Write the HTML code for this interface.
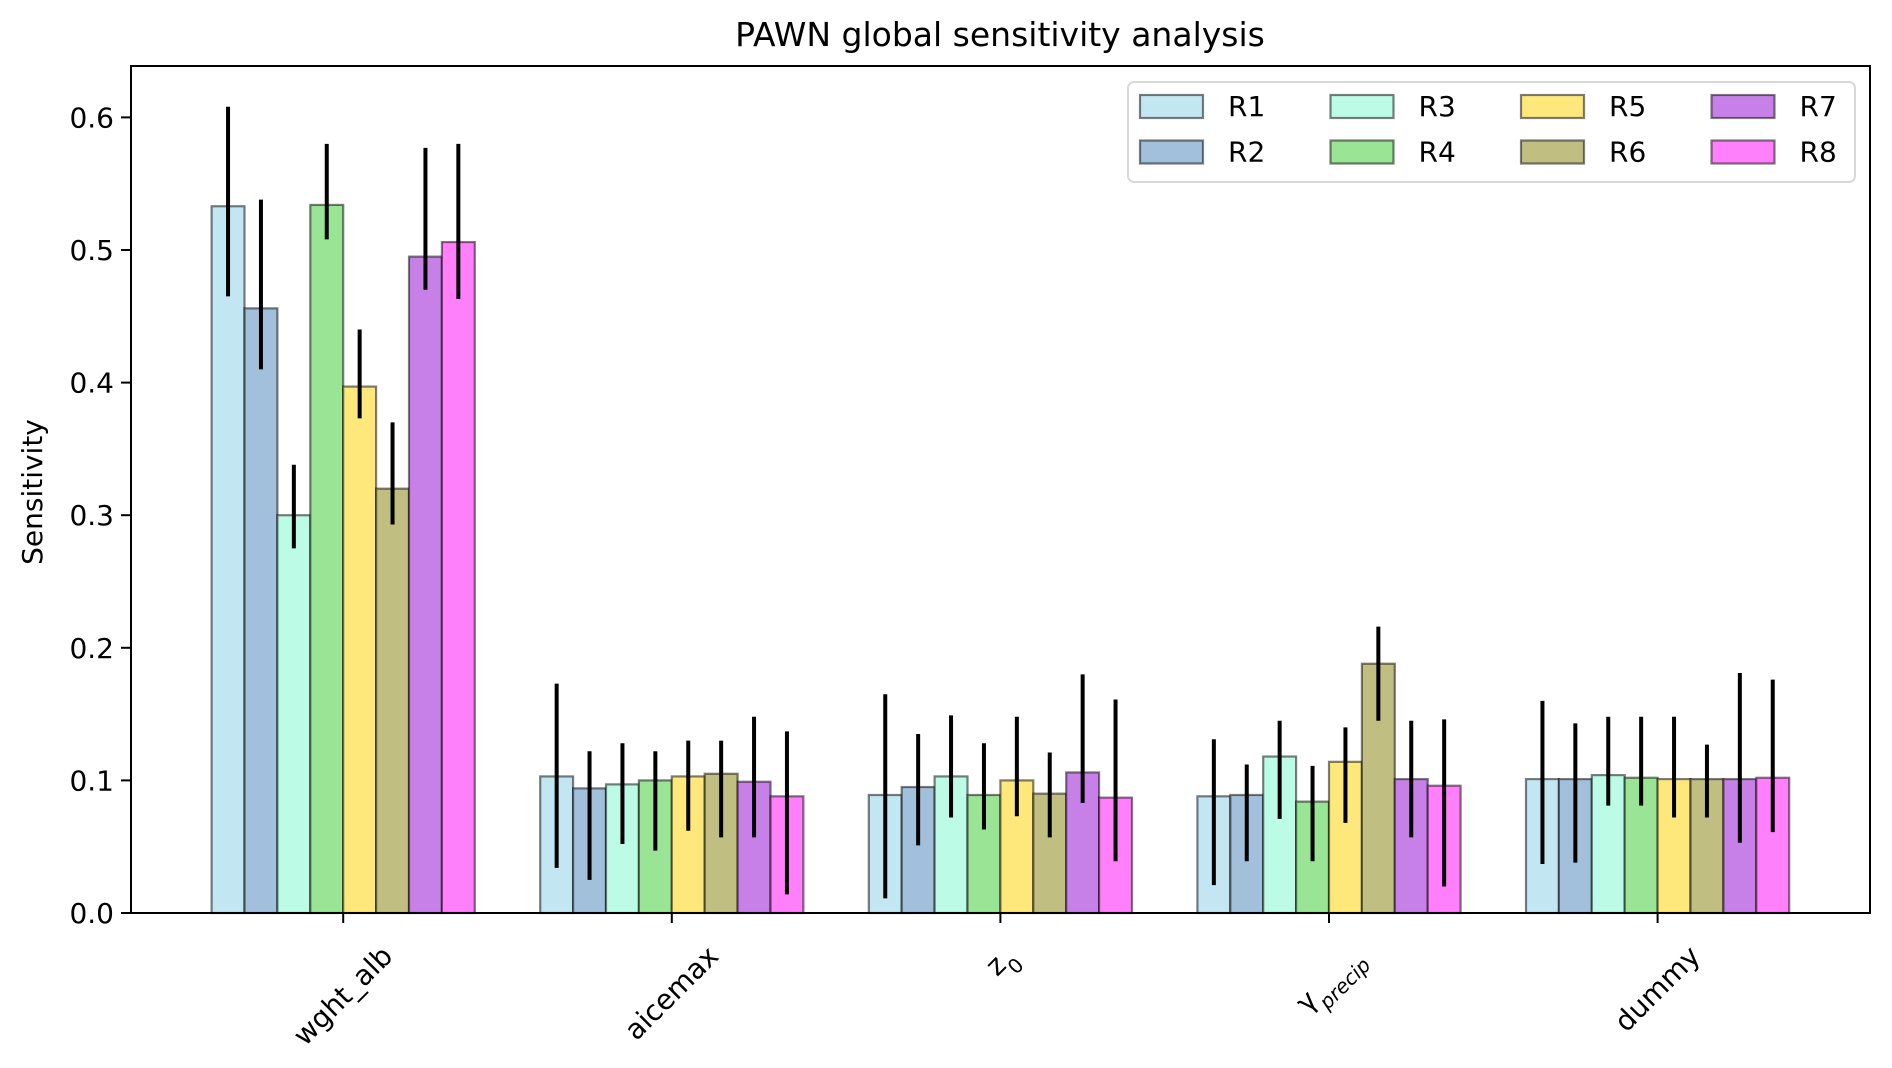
<!DOCTYPE html>
<html><head><meta charset="utf-8"><style>
html,body{margin:0;padding:0;background:#fff;}
svg{display:block;font-family:"DejaVu Sans","Liberation Sans",sans-serif;}
</style></head><body>
<svg id="chart" width="1892" height="1068" viewBox="0 0 1892 1068">
<rect x="0" y="0" width="1892" height="1068" fill="#fff"/>
<text x="1000" y="46" font-size="33" text-anchor="middle">PAWN global sensitivity analysis</text>
<text transform="translate(42,492) rotate(-90)" font-size="28" text-anchor="middle">Sensitivity</text>
<g id="bars"></g><g id="errs"></g><g id="axes"></g><g id="legend"></g>
</svg>
<script>
const categories = ['wght_alb','aicemax','z0','gamma_precip','dummy'];
const series = ['R1','R2','R3','R4','R5','R6','R7','R8'];
const R1 = [0.533,0.103,0.089,0.088,0.101];
const R2 = [0.456,0.094,0.095,0.089,0.101];
const R3 = [0.300,0.097,0.103,0.118,0.104];
const R4 = [0.534,0.100,0.089,0.084,0.102];
const R5 = [0.397,0.103,0.100,0.114,0.101];
const R6 = [0.320,0.105,0.090,0.188,0.101];
const R7 = [0.495,0.099,0.106,0.101,0.101];
const R8 = [0.506,0.088,0.087,0.096,0.102];
const lo1=[0.465,0.034,0.011,0.021,0.037], hi1=[0.608,0.173,0.165,0.131,0.160];
const lo2=[0.410,0.025,0.051,0.039,0.038], hi2=[0.538,0.122,0.135,0.112,0.143];
const lo3=[0.275,0.052,0.072,0.071,0.081], hi3=[0.338,0.128,0.149,0.145,0.148];
const lo4=[0.508,0.047,0.063,0.039,0.081], hi4=[0.580,0.122,0.128,0.111,0.148];
const lo5=[0.373,0.062,0.073,0.068,0.072], hi5=[0.440,0.130,0.148,0.140,0.148];
const lo6=[0.293,0.057,0.057,0.145,0.072], hi6=[0.370,0.130,0.121,0.216,0.127];
const lo7=[0.470,0.057,0.083,0.057,0.053], hi7=[0.577,0.148,0.180,0.145,0.181];
const lo8=[0.463,0.014,0.039,0.020,0.061], hi8=[0.580,0.137,0.161,0.146,0.176];
const yTicks=[0,0.1,0.2,0.3,0.4,0.5,0.6];
const yTickLabels=['0.0','0.1','0.2','0.3','0.4','0.5','0.6'];

const vals=[R1,R2,R3,R4,R5,R6,R7,R8];
const los=[lo1,lo2,lo3,lo4,lo5,lo6,lo7,lo8];
const his=[hi1,hi2,hi3,hi4,hi5,hi6,hi7,hi8];
const colors=['#c3e6f3','#a2bfdb','#bcfbe5','#9ae495','#fee87b','#c0be81','#c880e9','#ff80fa'];
const NS='http://www.w3.org/2000/svg';
const L=131,R=1870,T=66,B=913;
const step=328.6, c0=343.2, bw=32.9;
function xc(i){return c0+i*step;}
function y(v){return B-v*1326;}
function mk(tag,attrs,parent){const e=document.createElementNS(NS,tag);for(const k in attrs)e.setAttribute(k,attrs[k]);parent.appendChild(e);return e;}
const gb=document.getElementById('bars'),ge=document.getElementById('errs'),ga=document.getElementById('axes'),gl=document.getElementById('legend');
for(let s=0;s<series.length;s++){
  for(let i=0;i<categories.length;i++){
    const x=xc(i)-4*bw+s*bw;
    const r=mk('rect',{x:x,y:y(vals[s][i]),width:bw,height:y(0)-y(vals[s][i]),fill:colors[s],stroke:'rgba(0,0,0,0.5)','stroke-width':2.2},gb);
    
    
    const l=mk('line',{x1:x+bw/2,x2:x+bw/2,y1:y(los[s][i]),y2:y(his[s][i]),stroke:'#000','stroke-width':4},ge);
    
    
  }
}
const fr=mk('rect',{x:L,y:T,width:R-L,height:B-T,fill:'none',stroke:'#000','stroke-width':2},ga);


for(let k=0;k<yTicks.length;k++){
  const yy=y(yTicks[k]);
  mk('line',{x1:L-10,x2:L,y1:yy,y2:yy,stroke:'#000','stroke-width':2},ga);
  const t=mk('text',{x:L-17,y:yy+10,'font-size':28,'text-anchor':'end'},ga);
  t.textContent=yTickLabels[k];
  
  
}
const labelsHTML=['wght_alb','aicemax','z<tspan baseline-shift="sub" font-size="20">0</tspan>','γ<tspan baseline-shift="sub" font-size="20" font-style="italic">precip</tspan>','dummy'];
for(let i=0;i<categories.length;i++){
  const xx=xc(i);
  mk('line',{x1:xx,x2:xx,y1:B,y2:B+10,stroke:'#000','stroke-width':2},ga);
  const t=mk('text',{x:0,y:0,'font-size':28,'text-anchor':'middle'},ga);
  t.innerHTML=labelsHTML[i];
  
  
  const w=t.getComputedTextLength();
  const h=(w+24)*0.7071;
  t.setAttribute('transform','translate('+xx+','+(943+h/2)+') rotate(-45) translate(0,9)');
}
const lb=mk('rect',{x:1128,y:82,width:727,height:100,rx:6,fill:'#fff',stroke:'#d8d8d8','stroke-width':2},gl);


for(let s=0;s<series.length;s++){
  const col=Math.floor(s/2),row=s%2;
  const x=1140+col*190.5,yy=95+row*45.5;
  const p=mk('rect',{x:x,y:yy,width:63,height:23,fill:colors[s],stroke:'rgba(0,0,0,0.5)','stroke-width':2.2},gl);
  
  
  const t=mk('text',{x:x+88,y:yy+21,'font-size':28},gl);
  t.textContent=series[s];
  
  
}
</script>
</body></html>
